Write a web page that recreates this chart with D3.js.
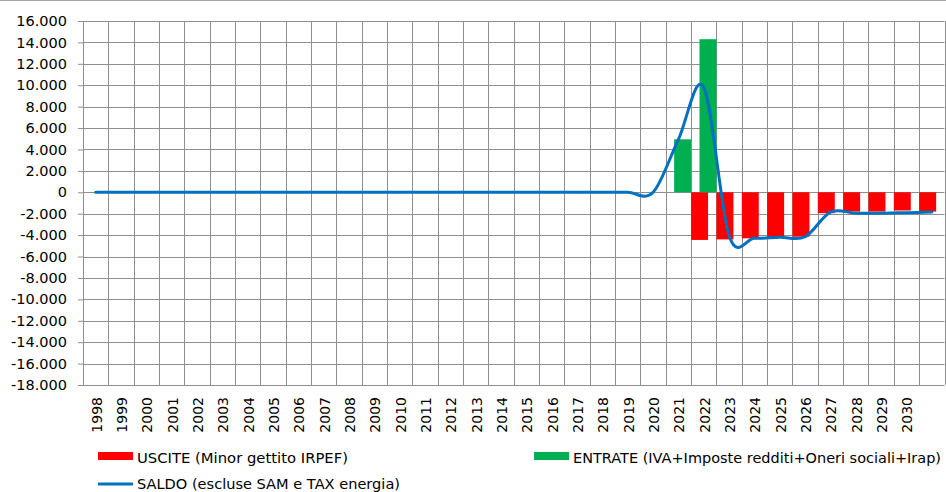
<!DOCTYPE html>
<html>
<head>
<meta charset="utf-8">
<script src="https://cdn.jsdelivr.net/npm/d3@7"></script>
<style>
  body { margin: 0; background: #fff; }
  svg { font-family: "DejaVu Sans", sans-serif; }
</style>
</head>
<body>
<div id="chart"></div>
<script>
// anni (l'ultima categoria non ha etichetta)
var years = d3.range(1998, 2032);
var yearLabels = years.map(function(y){ return y <= 2030 ? String(y) : ""; });

var uscite = [0,0,0,0,0,0,0,0,0,0,0,0,0,0,0,0,0,0,0,0,0,0,0,0,
    -4450,-4400,-4300,-4200,-4150,-1950,-1800,-1800,-1700,-1800];
var entrate = [0,0,0,0,0,0,0,0,0,0,0,0,0,0,0,0,0,0,0,0,0,0,0,4950,
    14300,0,0,0,0,0,0,0,0,0];
var saldo = [0,0,0,0,0,0,0,0,0,0,0,0,0,0,0,0,0,0,0,0,0,0,0,4950,
    9800,-4050,-4300,-4200,-4150,-1850,-1950,-1950,-1900,-1850];

var yTicks = d3.range(-18000, 16001, 2000);

var legendNames = ["USCITE (Minor gettito IRPEF)",
    "ENTRATE (IVA+Imposte redditi+Oneri sociali+Irap)",
    "SALDO (escluse SAM e TAX energia)"];

var W = 946, H = 492;
var margin = {top: 21, right: 1.5, bottom: 107, left: 83},
    width = W - margin.left - margin.right,
    height = H - margin.top - margin.bottom;

var grid = "#8f8f8f";

var svg = d3.select("#chart")
    .append("svg")
    .attr("width", W)
    .attr("height", H);

// bordo superiore del riquadro
svg.append("line")
    .attr("x1", 0).attr("x2", W)
    .attr("y1", 0.5).attr("y2", 0.5)
    .style("stroke", "#a6a6a6");

var g = svg.append("g")
    .attr("transform", "translate(" + margin.left + "," + margin.top + ")");

var x = d3.scaleBand().domain(years).range([0, width]).padding(0);
var y = d3.scaleLinear().domain([-18000, 16000]).range([height, 0]);

var it = d3.formatLocale({decimal: ",", thousands: ".", grouping: [3], currency: ["", "€"], minus: "-"});
var fmt = it.format(",");

// griglia orizzontale
g.selectAll(".hgrid")
    .data(yTicks)
    .enter()
    .append("line")
    .attr("class", "hgrid")
    .attr("x1", 0).attr("x2", width)
    .attr("y1", function(d){ return Math.round(y(d)) + 0.5; })
    .attr("y2", function(d){ return Math.round(y(d)) + 0.5; })
    .style("stroke", grid);

// griglia verticale (bordi di categoria)
var bounds = years.map(function(d){ return x(d); }).concat([width]);
g.selectAll(".vgrid")
    .data(bounds)
    .enter()
    .append("line")
    .attr("class", "vgrid")
    .attr("x1", function(d){ return Math.round(d) + 0.5; })
    .attr("x2", function(d){ return Math.round(d) + 0.5; })
    .attr("y1", 0).attr("y2", height)
    .style("stroke", grid);

// asse y
var yAxis = g.append("g")
    .call(d3.axisLeft(y).tickValues(yTicks).tickFormat(fmt).tickSize(5).tickPadding(11));
yAxis.select(".domain").remove();
yAxis.selectAll(".tick line").style("stroke", grid);
yAxis.selectAll("text")
    .style("font-size", "14.5px")
    .style("fill", "#000")
    .style("font-family", "DejaVu Sans");

// etichette asse x
g.selectAll(".xlab")
    .data(years)
    .enter()
    .append("text")
    .attr("class", "xlab")
    .attr("transform", function(d){
        return "translate(" + (x(d) + x.bandwidth() / 2 + 6) + "," + (height + 12) + ") rotate(-90)";
    })
    .attr("text-anchor", "end")
    .style("font-size", "14px")
    .text(function(d, i){ return yearLabels[i]; });

var barW = x.bandwidth() * 0.67;

// barre USCITE
g.selectAll(".usc")
    .data(years)
    .enter()
    .append("rect")
    .attr("class", "usc")
    .attr("x", function(d){ return x(d); })
    .attr("width", barW)
    .attr("y", function(d, i){ return Math.min(y(0), y(uscite[i])); })
    .attr("height", function(d, i){ return Math.abs(y(uscite[i]) - y(0)); })
    .style("fill", "#ff0000");

// barre ENTRATE
g.selectAll(".ent")
    .data(years)
    .enter()
    .append("rect")
    .attr("class", "ent")
    .attr("x", function(d){ return x(d) + x.bandwidth() - barW; })
    .attr("width", barW)
    .attr("y", function(d, i){ return Math.min(y(0), y(entrate[i])); })
    .attr("height", function(d, i){ return Math.abs(y(entrate[i]) - y(0)); })
    .style("fill", "#00b050");

// linea SALDO
var line = d3.line()
    .x(function(d, i){ return x(years[i]) + x.bandwidth() / 2; })
    .y(function(d){ return y(d); })
    .curve(d3.curveCardinal.tension(0));

g.append("path")
    .datum(saldo)
    .attr("d", line)
    .style("fill", "none")
    .style("stroke", "#0070c0")
    .style("stroke-width", 3)
    .style("stroke-linecap", "round");

// legenda
var leg = svg.append("g").style("font-size", "14px");
leg.append("rect").attr("x", 98).attr("y", 452).attr("width", 35).attr("height", 8).style("fill", "#ff0000");
leg.append("text").attr("x", 137).attr("y", 463)
    .attr("textLength", 211).attr("lengthAdjust", "spacingAndGlyphs").text(legendNames[0]);
leg.append("rect").attr("x", 534).attr("y", 452).attr("width", 35).attr("height", 8).style("fill", "#00b050");
leg.append("text").attr("x", 573).attr("y", 463)
    .attr("textLength", 368).attr("lengthAdjust", "spacingAndGlyphs").text(legendNames[1]);
leg.append("line").attr("x1", 98).attr("x2", 133).attr("y1", 484).attr("y2", 484)
    .style("stroke", "#0070c0").style("stroke-width", 3);
leg.append("text").attr("x", 137).attr("y", 489)
    .attr("textLength", 263).attr("lengthAdjust", "spacingAndGlyphs").text(legendNames[2]);
</script>
</body>
</html>
